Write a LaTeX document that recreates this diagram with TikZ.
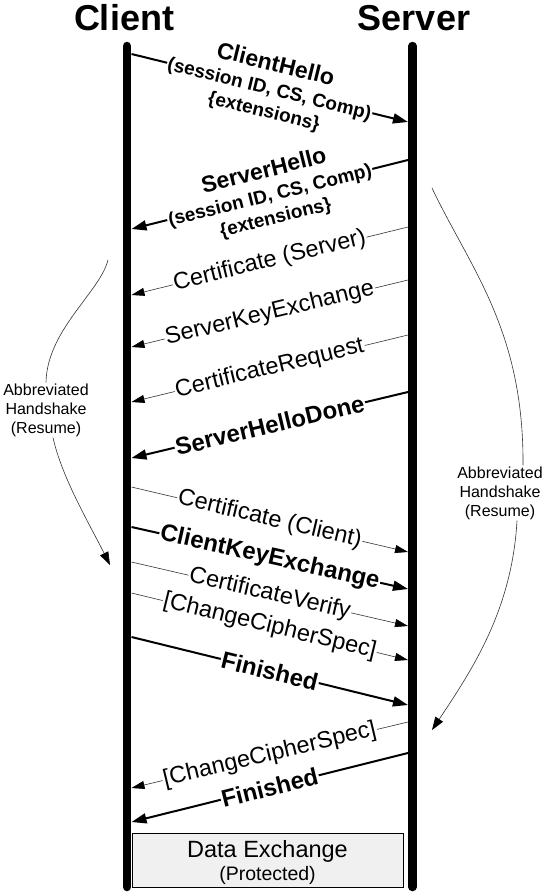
\documentclass[tikz,border=0pt]{standalone}
\usepackage{fontspec}
\setmainfont{Liberation Sans}
\usetikzlibrary{arrows.meta}
\begin{document}
\begin{tikzpicture}[x=1pt,y=-1pt,
  life/.style={line width=8.5pt, line cap=round},
  thickmsg/.style={line width=2pt, -{Triangle[length=15pt,width=10pt]}},
  thinmsg/.style={line width=0.6pt, draw=black!80, -{Triangle[length=13pt,width=8pt,color=black]}},
  lbl/.style={sloped, fill=white, inner sep=1pt, font=\fontsize{23.5}{25}\selectfont},
  blbl/.style={sloped, fill=white, inner sep=1pt, font=\fontsize{24}{25}\selectfont\bfseries},
  hello/.style={sloped, fill=white, inner sep=1pt, align=center, font=\fontsize{19}{22}\selectfont\bfseries},
  title/.style={font=\fontsize{36}{36}\selectfont\bfseries, anchor=base},
  abbr/.style={font=\fontsize{16}{19}\selectfont, align=center, inner sep=1pt},
  curve/.style={line width=0.6pt, draw=black!80},
  curvearr/.style={curve, -{Triangle[length=13pt,width=9pt,color=black]}},
]
\useasboundingbox (0,0) rectangle (548,895);

% titles
\node[title] (client) at (124,30) {Client};
\node[title] (server) at (414,30) {Server};

% lifelines
\coordinate (ctop) at (127,46);
\coordinate (cbot) at (127,887);
\coordinate (stop) at (412.5,46);
\coordinate (sbot) at (412.5,887);
\draw[life] (ctop) -- (cbot);
\draw[life] (stop) -- (sbot);

% message end points
\coordinate (L1) at (131.5,54);   \coordinate (R1) at (408,122);
\coordinate (R2) at (408,160);    \coordinate (L2) at (131.5,229);
\coordinate (R3) at (408,227);    \coordinate (L3) at (131.5,295);
\coordinate (R4) at (408,280);    \coordinate (L4) at (131.5,347);
\coordinate (R5) at (408,335);    \coordinate (L5) at (131.5,402);
\coordinate (R6) at (408,392);    \coordinate (L6) at (131.5,458);
\coordinate (L7) at (131.5,487);  \coordinate (R7) at (408,552);
\coordinate (L8) at (131.5,527);  \coordinate (R8) at (408,589);
\coordinate (L9) at (131.5,562);  \coordinate (R9) at (408,626);
\coordinate (L10) at (131.5,593); \coordinate (R10) at (408,660);
\coordinate (L11) at (131.5,637); \coordinate (R11) at (408,705);
\coordinate (R12) at (408,722);   \coordinate (L12) at (131.5,788);
\coordinate (R13) at (408,753);   \coordinate (L13) at (131.5,822);

% messages
\draw[thickmsg] (L1) -- node[hello] (m1)
    {{\fontsize{23}{23}\selectfont ClientHello}\\[2pt](session ID, CS, Comp)\\[1pt]\{extensions\}} (R1);
\draw[thickmsg] (R2) -- node[hello] (m2)
    {{\fontsize{23}{23}\selectfont ServerHello}\\[2pt](session ID, CS, Comp)\\[1pt]\{extensions\}} (L2);
\draw[thinmsg] (R3) -- node[lbl] (m3) {Certificate (Server)} (L3);
\draw[thinmsg] (R4) -- node[lbl] (m4) {ServerKeyExchange} (L4);
\draw[thinmsg] (R5) -- node[lbl] (m5) {CertificateRequest} (L5);
\draw[thickmsg] (R6) -- node[blbl] (m6) {ServerHelloDone} (L6);
\draw[thinmsg] (L7) -- node[lbl] (m7) {Certificate (Client)} (R7);
\draw[thickmsg] (L8) -- node[blbl] (m8) {ClientKeyExchange} (R8);
\draw[thinmsg] (L9) -- node[lbl] (m9) {CertificateVerify} (R9);
\draw[thinmsg] (L10) -- node[lbl] (m10) {[ChangeCipherSpec]} (R10);
\draw[thickmsg] (L11) -- node[blbl] (m11) {Finished} (R11);
\draw[thinmsg] (R12) -- node[lbl] (m12) {[ChangeCipherSpec]} (L12);
\draw[thickmsg] (R13) -- node[blbl] (m13) {Finished} (L13);

% data exchange box
\node[draw, fill=black!6, line width=0.7pt, minimum width=271pt, minimum height=54pt,
      inner sep=0pt, anchor=north west] (data) at (132,833) {};
\node[font=\fontsize{23.5}{23.5}\selectfont, anchor=base] (dx) at (267.5,857) {Data Exchange};
\node[font=\fontsize{19.5}{19.5}\selectfont, anchor=base] (prot) at (267.5,880) {(Protected)};

% abbreviated handshake (left)
\node[abbr] (abL) at (46,410) {Abbreviated\\Handshake\\(Resume)};
\coordinate (aLs) at (108,260);
\coordinate (aLe) at (110,565);
\draw[curve] (aLs) .. controls (100,292) and (47,330) .. (abL.north);
\draw[curvearr] ([xshift=7pt]abL.south) .. controls (62,478) and (90,525) .. (aLe);

% abbreviated handshake (right)
\node[abbr] (abR) at (500,493) {Abbreviated\\Handshake\\(Resume)};
\coordinate (aRs) at (432,188);
\coordinate (aRe) at (432,730);
\draw[curve] (aRs) .. controls (470,268) and (524,330) .. ([xshift=23pt]abR.north);
\draw[curvearr] ([xshift=17pt]abR.south) .. controls (512,610) and (472,670) .. (aRe);
\end{tikzpicture}
\end{document}
